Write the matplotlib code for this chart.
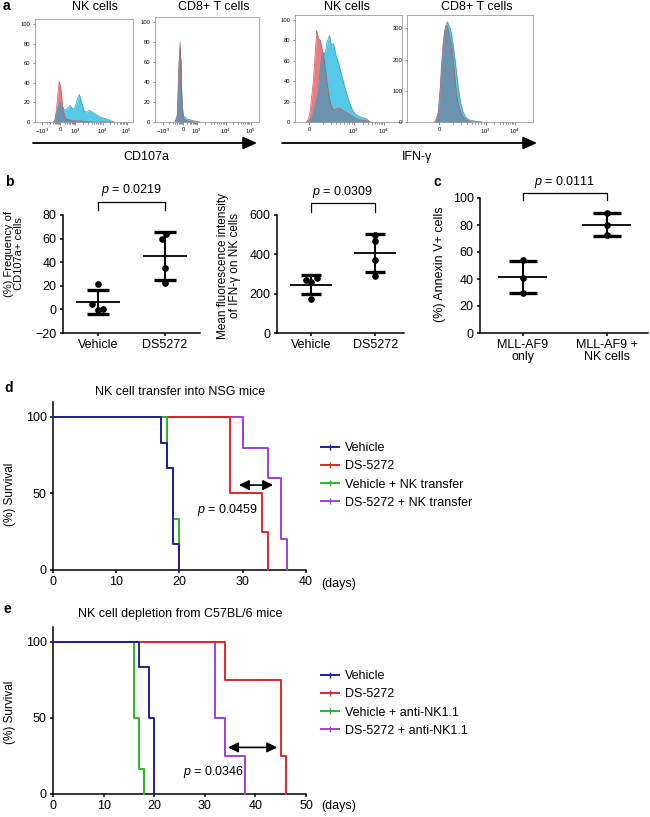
import numpy as np
import matplotlib
matplotlib.use('Agg')
import matplotlib.pyplot as plt
from matplotlib.lines import Line2D

plt.rcParams['font.family'] = ['Liberation Sans', 'DejaVu Sans']
plt.rcParams['mathtext.fontset'] = 'custom'
plt.rcParams['mathtext.rm'] = 'Liberation Sans'
plt.rcParams['mathtext.it'] = 'Liberation Sans:italic'
plt.rcParams['mathtext.bf'] = 'Liberation Sans:bold'

# ======================= DATA =======================
# Panel a : flow cytometry histograms (x in display units of the biexponential axis)
cd107_nk_x       = [-0.25, -0.19, -0.13, -0.06, -0.03, 0.03, 0.09, 0.17, 0.26, 0.39, 0.49,
                    0.58, 0.68, 0.75, 0.84, 0.94, 1.04, 1.14, 1.30, 1.56, 1.82, 2.08]
cd107_nk_vehicle = [0, 3, 15, 35, 41, 35, 18, 6, 3, 2, 1.5, 1.5, 1.2, 1, 1, 0.8, 0.5, 0.4, 0, 0, 0, 0]
cd107_nk_ds      = [0, 2, 10, 17, 20, 18, 16, 12, 13, 17, 13, 15, 24, 28, 20, 11, 10, 12, 9, 5, 3, 0]

cd107_cd8_x       = [-0.30, -0.22, -0.17, -0.15, -0.12, -0.09, -0.05, 0.0, 0.15, 0.40, 0.60]
cd107_cd8_vehicle = [0, 8, 55, 62, 80, 55, 15, 3, 1, 0, 0]
cd107_cd8_ds      = [0, 5, 50, 65, 75, 60, 20, 6, 3, 1, 0]

ifn_nk_x       = [-0.11, -0.03, 0.02, 0.13, 0.21, 0.24, 0.30, 0.36, 0.42, 0.49, 0.52, 0.58, 0.67,
                  0.73, 0.80, 0.89, 0.97, 1.08, 1.19, 1.30, 1.41, 1.52, 1.69, 1.91, 2.02]
ifn_nk_vehicle = [0, 3, 10, 40, 75, 90, 82, 80, 72, 62, 55, 40, 22, 16, 12, 13, 14, 12, 10, 8, 6, 4, 2, 1, 0]
ifn_nk_ds      = [0, 0, 2, 8, 18, 22, 30, 52, 68, 68, 65, 78, 85, 75, 77, 65, 58, 45, 33, 22, 13, 8, 5, 3, 0]

ifn_cd8_x       = [-0.15, -0.10, -0.03, 0.02, 0.08, 0.14, 0.20, 0.25, 0.29, 0.33, 0.37, 0.43,
                   0.50, 0.58, 0.66, 0.74, 0.82, 0.92, 1.02, 1.12, 1.29, 1.46]
ifn_cd8_vehicle = [0, 8, 25, 60, 175, 250, 295, 310, 305, 290, 270, 250, 190, 110, 60, 35, 18, 8, 3, 0, 0, 0]
ifn_cd8_ds      = [0, 5, 30, 80, 150, 225, 290, 315, 321, 312, 305, 285, 240, 180, 115, 65, 35, 15, 8, 5, 2, 0]

flow_tick_labels_cd107 = [r'$-10^3$', '0', r'$10^3$', r'$10^4$', r'$10^5$']
flow_tick_labels_ifn = ['0', r'$10^3$', r'$10^4$']

# Panel b
b_categories = ['Vehicle', 'DS5272']
freq_vehicle = [21.5, 4.5, 0.5, -0.5]
freq_ds5272 = [63.7, 60.0, 35.2, 22.0]
mfi_vehicle = [281, 268, 260, 175]
mfi_ds5272 = [500, 468, 369, 288]
p_freq = 'p = 0.0219'
p_mfi = 'p = 0.0309'

# Panel c
c_categories = ['MLL-AF9\nonly', 'MLL-AF9 +\nNK cells']
annexin_only = [53.8, 41.0, 29.9]
annexin_nk = [88.9, 79.8, 72.3]
p_annexin = 'p = 0.0111'

# Panel d : survival (time of step, % survival after step)
d_labels = ['Vehicle', 'DS-5272', 'Vehicle + NK transfer', 'DS-5272 + NK transfer']
d_vehicle_t, d_vehicle_s = [0, 17, 18, 19, 20], [100, 83.3, 66.7, 16.7, 0]
d_ds_t, d_ds_s = [0, 28, 33, 34], [100, 50, 25, 0]
d_vehnk_t, d_vehnk_s = [0, 18, 19, 20], [100, 66.7, 33.3, 0]
d_dsnk_t, d_dsnk_s = [0, 30, 34, 36, 37], [100, 80, 60, 20, 0]
p_d = '0.0459'

# Panel e
e_labels = ['Vehicle', 'DS-5272', 'Vehicle + anti-NK1.1', 'DS-5272 + anti-NK1.1']
e_vehicle_t, e_vehicle_s = [0, 17, 19, 20], [100, 83.3, 50, 0]
e_ds_t, e_ds_s = [0, 34, 45, 46], [100, 75, 25, 0]
e_vehnk_t, e_vehnk_s = [0, 16, 17, 18], [100, 50, 16.7, 0]
e_dsnk_t, e_dsnk_s = [0, 32, 34, 38], [100, 50, 25, 0]
p_e = '0.0346'

# ======================= LAYOUT =======================
W, H = 650, 817
fig = plt.figure(figsize=(6.5, 8.17), dpi=100)


def rect(l, t, r, b):
    return [l / W, 1 - b / H, (r - l) / W, (b - t) / H]


# overlay for text / arrows in pixel coordinates
ov = fig.add_axes([0, 0, 1, 1])
ov.set_xlim(0, W)
ov.set_ylim(H, 0)
ov.axis('off')

CYAN = '#55c9e8'
RED = '#ea7c80'
GREY = '#6b93ad'
CYAN_E = '#2f9fc0'
RED_E = '#c8585e'


def minor_positions(majors):
    out = []
    for a, b in zip(majors[:-1], majors[1:]):
        for k in range(2, 10):
            out.append(a + (b - a) * np.log10(k))
    return out


def flow_axes(rc, x, red, cyan, xlim, ymax, yticks, tpos, tlab):
    ax = fig.add_axes(rect(*rc))
    x = np.array(x); red = np.array(red, float); cyan = np.array(cyan, float)
    ax.fill_between(x, cyan, color=CYAN, lw=0)
    ax.fill_between(x, red, color=RED, lw=0)
    ax.fill_between(x, np.minimum(red, cyan), color=GREY, lw=0)
    ax.plot(x, cyan, color=CYAN_E, lw=0.5)
    ax.plot(x, red, color=RED_E, lw=0.5)
    ax.set_xlim(*xlim)
    ax.set_ylim(0, ymax)
    ax.set_yticks(yticks)
    ax.set_yticklabels([str(v) for v in yticks])
    ax.set_xticks(tpos)
    ax.set_xticklabels(tlab)
    ax.set_xticks(minor_positions(tpos), minor=True)
    for s in ax.spines.values():
        s.set_color('#9a9a9a')
        s.set_linewidth(0.6)
    ax.tick_params(which='both', labelsize=4.2, length=1.8, width=0.5, color='#555555', pad=1.5)
    ax.tick_params(which='minor', length=1.2)
    return ax


flow_axes((35, 19, 133, 122), cd107_nk_x, cd107_nk_vehicle, cd107_nk_ds,
          (-0.97, 2.83), 105, [0, 20, 40, 60, 80, 100],
          [-0.71, 0, 0.58, 1.65, 2.59], flow_tick_labels_cd107)
flow_axes((155, 17, 259, 122), cd107_cd8_x, cd107_cd8_vehicle, cd107_cd8_ds,
          (-1.05, 2.8), 105, [0, 20, 40, 60, 80, 100],
          [-0.74, 0, 0.49, 1.57, 2.49], flow_tick_labels_cd107)
flow_axes((295, 15, 402, 122), ifn_nk_x, ifn_nk_vehicle, ifn_nk_ds,
          (-0.48, 3.08), 105, [0, 20, 40, 60, 80, 100],
          [0, 1.47, 2.47], flow_tick_labels_ifn)
flow_axes((407, 15, 533, 122), ifn_cd8_x, ifn_cd8_vehicle, ifn_cd8_ds,
          (-1.1, 3.24), 343, [0, 100, 200, 300],
          [0, 1.61, 2.61], flow_tick_labels_ifn)

for tx, t in [(95, 'NK cells'), (214, 'CD8+ T cells'), (347, 'NK cells'), (477, 'CD8+ T cells')]:
    ov.text(tx, 7, t, fontsize=9, ha='center', va='center')

arrow_kw = dict(arrowstyle='-|>,head_length=0.7,head_width=0.32', color='k', lw=1.3,
                mutation_scale=12, shrinkA=0, shrinkB=0)
ov.annotate('', xy=(257, 143), xytext=(33, 143), arrowprops=arrow_kw)
ov.annotate('', xy=(537, 143), xytext=(282, 143), arrowprops=arrow_kw)
ov.text(146, 157, 'CD107a', fontsize=9, ha='center', va='center')
ov.text(417, 157, 'IFN-γ', fontsize=9, ha='center', va='center')


# ---------- dot plots ----------
def dot_axes(rc, groups, jit, xlim, ylim, yticks, cats, mean_hw, cap_hw, pval, br_y, leg_y, txt_y):
    ax = fig.add_axes(rect(*rc))
    for i, (vals, j) in enumerate(zip(groups, jit)):
        v = np.array(vals, float)
        m, s = v.mean(), v.std(ddof=1)
        ax.plot([i, i], [m - s, m + s], color='k', lw=1.5, zorder=2, solid_capstyle='butt')
        ax.plot([i - cap_hw, i + cap_hw], [m + s, m + s], color='k', lw=2.4, zorder=2, solid_capstyle='butt')
        ax.plot([i - cap_hw, i + cap_hw], [m - s, m - s], color='k', lw=2.4, zorder=2, solid_capstyle='butt')
        ax.plot([i - mean_hw, i + mean_hw], [m, m], color='k', lw=1.3, zorder=2, solid_capstyle='butt')
        ax.plot(i + np.array(j), v, 'o', ms=3.8, color='k', zorder=3, clip_on=False)
    ax.set_xlim(*xlim)
    ax.set_ylim(*ylim)
    ax.set_yticks(yticks)
    ax.set_yticklabels(['−' + str(-t) if t < 0 else str(t) for t in yticks])
    ax.set_xticks(range(len(cats)))
    ax.set_xticklabels(cats, linespacing=1.0)
    for sp in ['top', 'right']:
        ax.spines[sp].set_visible(False)
    for sp in ['left', 'bottom']:
        ax.spines[sp].set_linewidth(1.1)
    ax.tick_params(labelsize=9, length=2.5, width=1.1, pad=2)
    ax.plot([0, 0, 1, 1], [leg_y, br_y, br_y, leg_y], color='k', lw=0.9, clip_on=False)
    ax.text(0.5, txt_y, r'$p$' + pval[1:], fontsize=9, ha='center', va='bottom')
    return ax


dot_axes((63, 215, 200, 333), [freq_vehicle, freq_ds5272],
         [[0, -0.085, 0.075, 0], [0.02, -0.04, 0, 0]],
         (-0.52, 1.52), (-20, 80), [-20, 0, 20, 40, 60, 80], b_categories,
         0.33, 0.17, p_freq, 91, 84, 94)
dot_axes((277, 215, 404, 333), [mfi_vehicle, mfi_ds5272],
         [[0.094, -0.073, 0, 0], [0, 0, 0, 0]],
         (-0.53, 1.45), (0, 600), [0, 200, 400, 600], b_categories,
         0.33, 0.16, p_mfi, 661, 615, 675)
dot_axes((480, 198, 648, 333), [annexin_only, annexin_nk],
         [[0, 0, 0], [0, 0, 0]],
         (-0.51, 1.49), (0, 100), [0, 20, 40, 60, 80, 100], c_categories,
         0.29, 0.17, p_annexin, 103.5, 98.5, 106)

ov.text(14, 254, '(%) Frequency of\nCD107a+ cells', fontsize=8, rotation=90,
        ha='center', va='center', linespacing=1.1)
ov.text(229, 266, 'Mean fluorescence intensity\nof IFN-γ on NK cells', fontsize=8.5, rotation=90,
        ha='center', va='center', linespacing=1.1)
ov.text(440, 264, '(%) Annexin V+ cells', fontsize=9, rotation=90, ha='center', va='center')


# ---------- survival ----------
COLS = ['#1f1f9e', '#e0262a', '#2db52d', '#a23fd6']


def surv_axes(rc, curves, labels, xmax, xticks, title, title_y, leg_top, days_y,
              arrow, ptxt, pxy, ylab_y):
    ax = fig.add_axes(rect(*rc))
    order = [3, 1, 2, 0]
    for k in order:
        t, s = curves[k]
        ax.step(t, s, where='post', color=COLS[k], lw=1.4, zorder=3 + order.index(k), clip_on=False)
    ax.set_xlim(0, xmax)
    ax.set_ylim(0, 110)
    ax.set_xticks(xticks)
    ax.set_yticks([0, 50, 100])
    for sp in ['top', 'right']:
        ax.spines[sp].set_visible(False)
    for sp in ['left', 'bottom']:
        ax.spines[sp].set_linewidth(1.1)
    ax.tick_params(labelsize=9, length=2.5, width=1.1, pad=2)
    ax.annotate('', xy=(arrow[1], arrow[2]), xytext=(arrow[0], arrow[2]),
                arrowprops=dict(arrowstyle='<|-|>,head_length=0.6,head_width=0.3', color='k',
                                lw=1.2, mutation_scale=10, shrinkA=0, shrinkB=0))
    ax.text(pxy[0], pxy[1], r'$p$ = ' + ptxt, fontsize=9, ha='center', va='center')
    ov.text(180, title_y, title, fontsize=9, ha='center', va='center')
    ov.text(321, days_y, '(days)', fontsize=9, ha='left', va='center')
    ov.text(10, ylab_y, '(%) Survival', fontsize=8.5, rotation=90, ha='center', va='center')
    handles = [Line2D([0], [0], color=c, lw=1.4, marker='|', ms=4, mew=1) for c in COLS]
    fig.legend(handles, labels, loc='upper left', bbox_to_anchor=(321 / W, 1 - leg_top / H),
               frameon=False, fontsize=9, handlelength=1.45, handletextpad=0.5,
               labelspacing=0.5, borderpad=0, borderaxespad=0)
    return ax


surv_axes((53, 401.7, 306, 570),
          [(d_vehicle_t, d_vehicle_s), (d_ds_t, d_ds_s), (d_vehnk_t, d_vehnk_s), (d_dsnk_t, d_dsnk_s)],
          d_labels, 40, [0, 10, 20, 30, 40], 'NK cell transfer into NSG mice', 392, 442, 583.5,
          (29.4, 34.8, 55.5), p_d, (27.6, 39), 494)
surv_axes((53, 626.5, 306, 794),
          [(e_vehicle_t, e_vehicle_s), (e_ds_t, e_ds_s), (e_vehnk_t, e_vehnk_s), (e_dsnk_t, e_dsnk_s)],
          e_labels, 50, [0, 10, 20, 30, 40, 50], 'NK cell depletion from C57BL/6 mice', 614, 670, 806,
          (34.6, 44.3, 30.6), p_e, (31.7, 14.7), 712)

# panel letters
for x, y, l in [(3, 6, 'a'), (5, 182, 'b'), (433, 182, 'c'), (4, 388, 'd'), (4, 609, 'e')]:
    ov.text(x, y, l, fontsize=10, fontweight='bold', ha='left', va='center')

fig.savefig('out.png', dpi=100)
